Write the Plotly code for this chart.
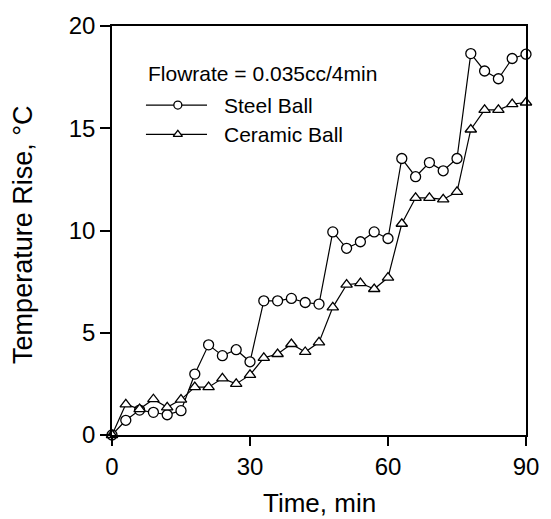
import plotly.graph_objects as go

# ---- data ----
time_min = [0, 3, 6, 9, 12, 15, 18, 21, 24, 27, 30, 33, 36, 39, 42, 45,
            48, 51, 54, 57, 60, 63, 66, 69, 72, 75, 78, 81, 84, 87, 90]
steel_ball = [0.0, 0.72, 1.22, 1.11, 0.99, 1.19, 2.98, 4.41, 3.88, 4.17, 3.58,
              6.56, 6.56, 6.68, 6.48, 6.40, 9.93, 9.13, 9.45, 9.93, 9.61,
              13.52, 12.63, 13.32, 12.92, 13.52, 18.65, 17.80, 17.42, 18.41, 18.62]
ceramic_ball = [0.0, 1.50, 1.27, 1.75, 1.35, 1.73, 2.34, 2.34, 2.77, 2.50, 2.94,
                3.77, 3.96, 4.45, 4.06, 4.53, 6.24, 7.35, 7.43, 7.14, 7.70,
                10.33, 11.60, 11.60, 11.52, 11.89, 14.94, 15.90, 15.90, 16.18, 16.26]
x_ticks = [0, 30, 60, 90]
y_ticks = [0, 5, 10, 15, 20]
series_names = ["Steel Ball", "Ceramic Ball"]
legend_title = "Flowrate = 0.035cc/4min"
x_title = "Time, min"
y_title = "Temperature Rise, °C"

FONT = "Liberation Sans, Arial, sans-serif"

fig = go.Figure()
marker_common = dict(size=10, color="white", line=dict(color="black", width=1.3))
fig.add_trace(go.Scatter(x=time_min, y=steel_ball, mode="lines+markers",
                         line=dict(color="black", width=1.2),
                         marker=dict(symbol="circle", **marker_common),
                         showlegend=False, cliponaxis=False))
fig.add_trace(go.Scatter(x=time_min, y=ceramic_ball, mode="lines+markers",
                         line=dict(color="black", width=1.2),
                         marker=dict(symbol="triangle-up", **marker_common),
                         showlegend=False, cliponaxis=False))

# legend samples drawn on an overlay axis in fractional units
leg_x_line = [0.082, 0.2295]
leg_x_mark = 0.159
leg_y = [0.8067, 0.735]
symbols = ["circle", "triangle-up"]
for yy, sym in zip(leg_y, symbols):
    fig.add_trace(go.Scatter(x=leg_x_line, y=[yy, yy], mode="lines",
                             line=dict(color="black", width=1.2),
                             xaxis="x2", yaxis="y2", showlegend=False))
    fig.add_trace(go.Scatter(x=[leg_x_mark], y=[yy], mode="markers",
                             marker=dict(symbol=sym, size=8, color="white",
                                         line=dict(color="black", width=1.3)),
                             xaxis="x2", yaxis="y2", showlegend=False))

annotations = [
    dict(text=legend_title, x=0.082, y=0.883, xref="paper", yref="paper",
         xanchor="left", yanchor="middle", showarrow=False,
         font=dict(family=FONT, size=21, color="black")),
]
for yy, name in zip(leg_y, series_names):
    annotations.append(dict(text=name, x=0.2657, y=yy, xref="paper", yref="paper",
                            xanchor="left", yanchor="middle", showarrow=False,
                            font=dict(family=FONT, size=21, color="black")))

L, R, T, B = 112, 25, 16, 84
W, H = 551, 519
pw, ph = W - L - R, H - T - B
annotations.append(dict(text=x_title, x=0.5, y=(H - B - 505) / ph, xref="paper", yref="paper",
                        showarrow=False, xanchor="center", yanchor="middle",
                        font=dict(family=FONT, size=26, color="black")))
annotations.append(dict(text=y_title, x=(23 - L) / pw, y=(H - B - 230) / ph,
                        xref="paper", yref="paper",
                        showarrow=False, textangle=-90, xanchor="center", yanchor="middle",
                        font=dict(family=FONT, size=27, color="black")))

fig.update_layout(
    width=W, height=H,
    margin=dict(l=L, r=R, t=T, b=B, pad=0),
    paper_bgcolor="white", plot_bgcolor="white",
    font=dict(family=FONT, color="black"),
    annotations=annotations,
    xaxis=dict(range=[0, 90], tickvals=x_ticks, ticks="outside", ticklen=9,
               tickwidth=1.5, tickcolor="black", showline=True, linecolor="black",
               linewidth=1.5, mirror=True, showgrid=False, zeroline=False,
               tickfont=dict(family=FONT, size=24, color="black")),
    yaxis=dict(range=[0, 20], tickvals=y_ticks, ticks="outside", ticklen=10,
               tickwidth=1.5, tickcolor="black", showline=True, linecolor="black",
               linewidth=1.5, mirror=True, showgrid=False, zeroline=False,
               tickfont=dict(family=FONT, size=24, color="black")),
    xaxis2=dict(range=[0, 1], overlaying="x", visible=False),
    yaxis2=dict(range=[0, 1], overlaying="y", visible=False),
)

fig.write_html("out.html")
